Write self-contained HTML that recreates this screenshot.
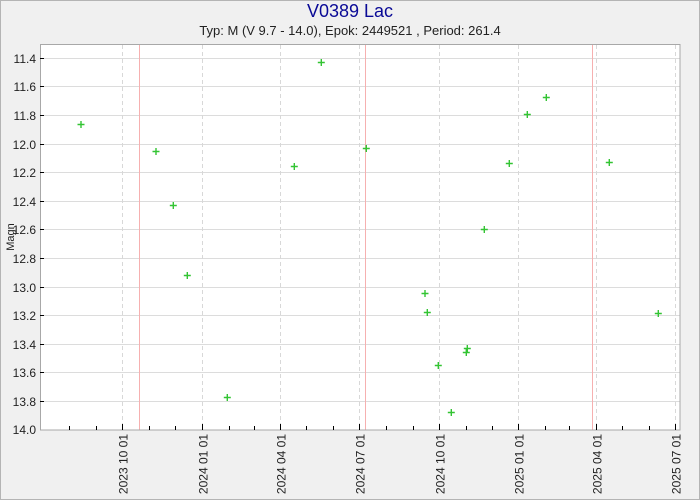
<!DOCTYPE html>
<html>
<head>
<meta charset="utf-8">
<style>
html,body{margin:0;padding:0;background:#f0f0f0;}
svg{display:block;}
text{font-family:"Liberation Sans",Arial,sans-serif;}
</style>
</head>
<body>
<svg width="700" height="500" viewBox="0 0 700 500" xmlns="http://www.w3.org/2000/svg">
<rect x="0.5" y="0.5" width="699" height="499" fill="#f0f0f0" stroke="#b4b4b4" stroke-width="1"/>
<text x="350" y="17" text-anchor="middle" font-size="18" fill="#0a0a96">V0389 Lac</text>
<text x="350" y="35" text-anchor="middle" font-size="13" fill="#222">Typ: M (V 9.7 - 14.0), Epok: 2449521 , Period: 261.4</text>

<rect x="40.5" y="44.5" width="639.5" height="385.5" fill="#ffffff"/>

<!-- horizontal grid -->
<g stroke="#dcdcdc" stroke-width="1">
<line x1="40" x2="680" y1="58.5" y2="58.5"/>
<line x1="40" x2="680" y1="86.5" y2="86.5"/>
<line x1="40" x2="680" y1="115.5" y2="115.5"/>
<line x1="40" x2="680" y1="144.5" y2="144.5"/>
<line x1="40" x2="680" y1="172.5" y2="172.5"/>
<line x1="40" x2="680" y1="201.5" y2="201.5"/>
<line x1="40" x2="680" y1="229.5" y2="229.5"/>
<line x1="40" x2="680" y1="258.5" y2="258.5"/>
<line x1="40" x2="680" y1="287.5" y2="287.5"/>
<line x1="40" x2="680" y1="315.5" y2="315.5"/>
<line x1="40" x2="680" y1="344.5" y2="344.5"/>
<line x1="40" x2="680" y1="372.5" y2="372.5"/>
<line x1="40" x2="680" y1="401.5" y2="401.5"/>
</g>
<!-- vertical dashed grid -->
<g stroke="#d8d8d8" stroke-width="1" stroke-dasharray="4,3">
<line x1="122.5" x2="122.5" y1="45" y2="430"/>
<line x1="202.5" x2="202.5" y1="45" y2="430"/>
<line x1="280.5" x2="280.5" y1="45" y2="430"/>
<line x1="359.5" x2="359.5" y1="45" y2="430"/>
<line x1="439.5" x2="439.5" y1="45" y2="430"/>
<line x1="518.5" x2="518.5" y1="45" y2="430"/>
<line x1="596.5" x2="596.5" y1="45" y2="430"/>
<line x1="675.5" x2="675.5" y1="45" y2="430"/>
</g>
<!-- red maxima lines -->
<g stroke="#f6b0b0" stroke-width="1">
<line x1="139.5" x2="139.5" y1="45" y2="430"/>
<line x1="365.5" x2="365.5" y1="45" y2="430"/>
<line x1="592.5" x2="592.5" y1="45" y2="430"/>
</g>

<!-- plot border -->
<rect x="40.5" y="44.5" width="639.5" height="385.5" fill="none" stroke="#a8a8a8" stroke-width="1"/>

<!-- y ticks -->
<g stroke="#000" stroke-width="1">
<line x1="40" x2="44" y1="58.5" y2="58.5"/>
<line x1="40" x2="44" y1="86.5" y2="86.5"/>
<line x1="40" x2="44" y1="115.5" y2="115.5"/>
<line x1="40" x2="44" y1="144.5" y2="144.5"/>
<line x1="40" x2="44" y1="172.5" y2="172.5"/>
<line x1="40" x2="44" y1="201.5" y2="201.5"/>
<line x1="40" x2="44" y1="229.5" y2="229.5"/>
<line x1="40" x2="44" y1="258.5" y2="258.5"/>
<line x1="40" x2="44" y1="287.5" y2="287.5"/>
<line x1="40" x2="44" y1="315.5" y2="315.5"/>
<line x1="40" x2="44" y1="344.5" y2="344.5"/>
<line x1="40" x2="44" y1="372.5" y2="372.5"/>
<line x1="40" x2="44" y1="401.5" y2="401.5"/>
</g>
<g font-size="12" fill="#222" text-anchor="end">
<text x="36" y="63">11.4</text>
<text x="36" y="91">11.6</text>
<text x="36" y="120">11.8</text>
<text x="36" y="149">12.0</text>
<text x="36" y="177">12.2</text>
<text x="36" y="206">12.4</text>
<text x="36" y="234">12.6</text>
<text x="36" y="263">12.8</text>
<text x="36" y="292">13.0</text>
<text x="36" y="320">13.2</text>
<text x="36" y="349">13.4</text>
<text x="36" y="377">13.6</text>
<text x="36" y="406">13.8</text>
<text x="36" y="434">14.0</text>
</g>
<text transform="translate(14,237) rotate(-90)" text-anchor="middle" font-size="11" fill="#222">Magn</text>

<!-- x ticks -->
<g stroke="#000" stroke-width="1">
<line x1="69.5" x2="69.5" y1="426" y2="430"/>
<line x1="96.5" x2="96.5" y1="426" y2="430"/>
<line x1="122.5" x2="122.5" y1="424" y2="430"/>
<line x1="149.5" x2="149.5" y1="426" y2="430"/>
<line x1="175.5" x2="175.5" y1="426" y2="430"/>
<line x1="202.5" x2="202.5" y1="424" y2="430"/>
<line x1="229.5" x2="229.5" y1="426" y2="430"/>
<line x1="254.5" x2="254.5" y1="426" y2="430"/>
<line x1="280.5" x2="280.5" y1="424" y2="430"/>
<line x1="306.5" x2="306.5" y1="426" y2="430"/>
<line x1="333.5" x2="333.5" y1="426" y2="430"/>
<line x1="359.5" x2="359.5" y1="424" y2="430"/>
<line x1="386.5" x2="386.5" y1="426" y2="430"/>
<line x1="413.5" x2="413.5" y1="426" y2="430"/>
<line x1="439.5" x2="439.5" y1="424" y2="430"/>
<line x1="466.5" x2="466.5" y1="426" y2="430"/>
<line x1="492.5" x2="492.5" y1="426" y2="430"/>
<line x1="518.5" x2="518.5" y1="424" y2="430"/>
<line x1="545.5" x2="545.5" y1="426" y2="430"/>
<line x1="569.5" x2="569.5" y1="426" y2="430"/>
<line x1="596.5" x2="596.5" y1="424" y2="430"/>
<line x1="622.5" x2="622.5" y1="426" y2="430"/>
<line x1="649.5" x2="649.5" y1="426" y2="430"/>
<line x1="675.5" x2="675.5" y1="424" y2="430"/>
</g>
<g font-size="12" fill="#222" text-anchor="end">
<text transform="translate(127.3,434) rotate(-90)">2023 10 01</text>
<text transform="translate(207.3,434) rotate(-90)">2024 01 01</text>
<text transform="translate(285.3,434) rotate(-90)">2024 04 01</text>
<text transform="translate(364.3,434) rotate(-90)">2024 07 01</text>
<text transform="translate(444.3,434) rotate(-90)">2024 10 01</text>
<text transform="translate(523.3,434) rotate(-90)">2025 01 01</text>
<text transform="translate(601.3,434) rotate(-90)">2025 04 01</text>
<text transform="translate(680.3,434) rotate(-90)">2025 07 01</text>
</g>

<!-- data points -->
<g stroke="#33c433" stroke-width="1.4" fill="none">
<path d="M77.5 124.5h7M81 121v7"/>
<path d="M152.5 151.5h7M156 148v7"/>
<path d="M169.8 205.5h7M173.3 202v7"/>
<path d="M183.8 275.5h7M187.3 272v7"/>
<path d="M223.8 397.5h7M227.3 394v7"/>
<path d="M290.8 166.5h7M294.3 163v7"/>
<path d="M317.8 62.5h7M321.3 59v7"/>
<path d="M362.8 148.5h7M366.3 145v7"/>
<path d="M421.5 293.5h7M425 290v7"/>
<path d="M423.8 312.5h7M427.3 309v7"/>
<path d="M434.8 365.5h7M438.3 362v7"/>
<path d="M447.8 412.5h7M451.3 409v7"/>
<path d="M462.8 352.5h7M466.3 349v7"/>
<path d="M463.8 348.5h7M467.3 345v7"/>
<path d="M480.8 229.5h7M484.3 226v7"/>
<path d="M505.8 163.5h7M509.3 160v7"/>
<path d="M523.8 114.5h7M527.3 111v7"/>
<path d="M542.8 97.5h7M546.3 94v7"/>
<path d="M605.8 162.5h7M609.3 159v7"/>
<path d="M654.8 313.5h7M658.3 310v7"/>
</g>
</svg>
</body>
</html>
